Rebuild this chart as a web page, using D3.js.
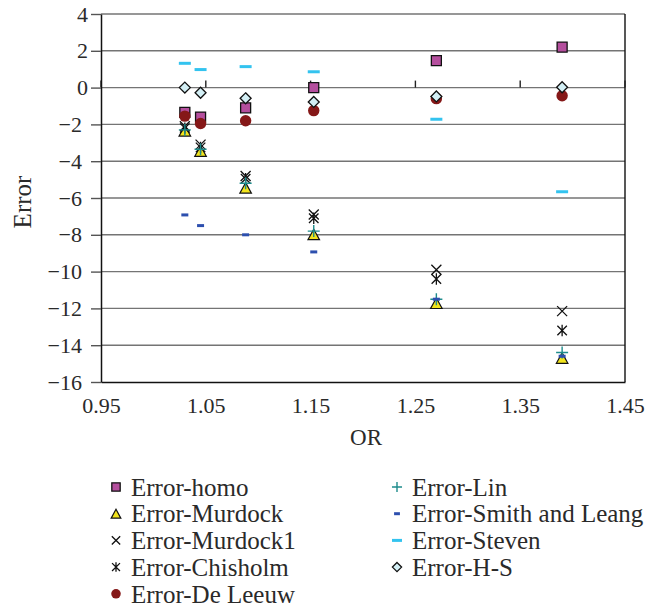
<!DOCTYPE html>
<html>
<head>
<meta charset="utf-8">
<script src="https://cdn.jsdelivr.net/npm/d3@7"></script>
<style>
body { margin: 0; background: #fff; }
svg text { font-family: "Liberation Serif", "Times New Roman", "DejaVu Serif", serif; fill: #2a2a2a; }
</style>
</head>
<body>
<svg id="chart" width="646" height="607"></svg>
<script>
// OR values (x) shared by every series
var orValues = [1.03, 1.045, 1.088, 1.153, 1.27, 1.39];

var errHomo       = [-1.35, -1.6, -1.1, 0.0, 1.47, 2.2];
var errMurdock    = [-2.35, -3.45, -5.45, -7.98, -11.72, -14.7];
var errMurdock1   = [-2.1, -3.1, -4.8, -6.9, -9.9, -12.15];
var errChisholm   = [-2.2, -3.25, -4.95, -7.1, -10.4, -13.2];
var errDeLeeuw    = [-1.55, -1.95, -1.8, -1.25, -0.6, -0.44];
var errLin        = [-2.3, -3.35, -5.2, -7.8, -11.5, -14.4];
var errSmithLeang = [-6.92, -7.5, -8.0, -8.93, -11.5, -14.6];
var errSteven     = [1.32, 0.98, 1.14, 0.86, -1.72, -5.66];
var errHS         = [0.0, -0.28, -0.58, -0.78, -0.48, 0.02];

var seriesNames = ['Error-homo', 'Error-Murdock', 'Error-Murdock1', 'Error-Chisholm',
  'Error-De Leeuw', 'Error-Lin', 'Error-Smith and Leang', 'Error-Steven', 'Error-H-S'];

var xTicks = [0.95, 1.05, 1.15, 1.25, 1.35, 1.45];
var yTicks = [-16, -14, -12, -10, -8, -6, -4, -2, 0, 2, 4];

var FONT = '"Liberation Serif", "Times New Roman", "DejaVu Serif", serif';

// marker shapes, drawn with d3.symbol custom types
var shapes = {
  square:   { draw: function(c, s) { var r = Math.sqrt(s) / 2; c.rect(-r, -r, 2 * r, 2 * r); } },
  triangle: { draw: function(c, s) { var r = Math.sqrt(s) / 2; c.moveTo(0, -r); c.lineTo(r * 1.1, r); c.lineTo(-r * 1.1, r); c.closePath(); } },
  times:    { draw: function(c, s) { var r = Math.sqrt(s) / 2; c.moveTo(-r, -r); c.lineTo(r, r); c.moveTo(-r, r); c.lineTo(r, -r); } },
  asterisk: { draw: function(c, s) { var r = Math.sqrt(s) / 2; c.moveTo(-r, -r); c.lineTo(r, r); c.moveTo(-r, r); c.lineTo(r, -r); c.moveTo(0, -r * 1.2); c.lineTo(0, r * 1.2); } },
  circle:   { draw: function(c, s) { var r = Math.sqrt(s) / 2; c.moveTo(r, 0); c.arc(0, 0, r, 0, 2 * Math.PI); } },
  plus:     { draw: function(c, s) { var r = Math.sqrt(s) / 2; c.moveTo(-r, 0); c.lineTo(r, 0); c.moveTo(0, -r); c.lineTo(0, r); } },
  dashS:    { draw: function(c, s) { var r = Math.sqrt(s) / 2; c.rect(-r, -1.5, 2 * r, 3); } },
  diamond:  { draw: function(c, s) { var r = Math.sqrt(s) / 2; c.moveTo(0, -r); c.lineTo(r, 0); c.lineTo(0, r); c.lineTo(-r, 0); c.closePath(); } }
};

var series = [
  { name: seriesNames[0], values: errHomo,       shape: shapes.square,   size: 100, fill: '#b54f9e', stroke: '#111', sw: 1.3 },
  { name: seriesNames[1], values: errMurdock,    shape: shapes.triangle, size: 110, fill: '#f2e41c', stroke: '#111', sw: 1.2 },
  { name: seriesNames[2], values: errMurdock1,   shape: shapes.times,    size: 100, fill: 'none',    stroke: '#111', sw: 1.3 },
  { name: seriesNames[3], values: errChisholm,   shape: shapes.asterisk, size: 90,  fill: 'none',    stroke: '#111', sw: 1.3 },
  { name: seriesNames[4], values: errDeLeeuw,    shape: shapes.circle,   size: 130, fill: '#851818', stroke: 'none', sw: 0 },
  { name: seriesNames[5], values: errLin,        shape: shapes.plus,     size: 144, fill: 'none',    stroke: '#1e8c8c', sw: 1.4 },
  { name: seriesNames[6], values: errSmithLeang, shape: shapes.dashS,    size: 49,  fill: '#2d4fae', stroke: 'none', sw: 0 },
  { name: seriesNames[7], values: errSteven,     shape: shapes.dashS,    size: 144, fill: '#33c3ef', stroke: 'none', sw: 0 },
  { name: seriesNames[8], values: errHS,         shape: shapes.diamond,  size: 120, fill: '#d3eff5', stroke: '#111', sw: 1.3 }
];

var svg = d3.select('#chart');
var plotLeft = 101, plotRight = 625, plotTop = 14, plotBottom = 382;

var x = d3.scaleLinear().domain([0.95, 1.45]).range([plotLeft, plotRight]);
var y = d3.scaleLinear().domain([-16, 4]).range([plotBottom, plotTop]);

// horizontal gridlines
svg.append('g').selectAll('line')
  .data(yTicks.filter(function(d) { return d > -16; }))
  .enter().append('line')
  .attr('x1', plotLeft).attr('x2', plotRight)
  .attr('y1', function(d) { return y(d); }).attr('y2', function(d) { return y(d); })
  .attr('stroke', '#747474').attr('stroke-width', 1.4);

// right border
svg.append('line')
  .attr('x1', plotRight).attr('x2', plotRight).attr('y1', plotTop).attr('y2', plotBottom)
  .attr('stroke', '#111').attr('stroke-width', 1.4);

// small tick marks on the y = 0 line
svg.append('g').selectAll('line')
  .data(xTicks)
  .enter().append('line')
  .attr('x1', function(d) { return x(d); }).attr('x2', function(d) { return x(d); })
  .attr('y1', y(0)).attr('y2', y(0) - 7)
  .attr('stroke', '#222').attr('stroke-width', 1.4);

// bottom axis (labels only, low position)
var xAxis = svg.append('g')
  .attr('transform', 'translate(0,' + plotBottom + ')')
  .call(d3.axisBottom(x).tickValues(xTicks).tickSize(0).tickPadding(15).tickFormat(d3.format('.2f')));
xAxis.attr('font-family', FONT).attr('font-size', 22);
xAxis.select('.domain').attr('stroke', '#111').attr('stroke-width', 1.5);
xAxis.selectAll('text').attr('fill', '#2a2a2a');

// left axis
var yAxis = svg.append('g')
  .attr('transform', 'translate(' + plotLeft + ',0)')
  .call(d3.axisLeft(y).tickValues(yTicks).tickSize(10).tickPadding(9).tickSizeOuter(0));
yAxis.attr('font-family', FONT).attr('font-size', 22);
yAxis.select('.domain').attr('stroke', '#111').attr('stroke-width', 1.5);
yAxis.selectAll('.tick line').attr('stroke', '#555').attr('stroke-width', 1.4);
yAxis.selectAll('text')
  .attr('fill', '#2a2a2a')
  .attr('dx', function(d) { return d >= 0 ? 6 : 0; });

// axis titles
svg.append('text')
  .attr('transform', 'translate(31,202) rotate(-90)')
  .attr('text-anchor', 'middle')
  .attr('font-size', 25)
  .text('Error');

svg.append('text')
  .attr('x', 366).attr('y', 445)
  .attr('text-anchor', 'middle')
  .attr('font-size', 23)
  .text('OR');

// points
var sym = d3.symbol();
var groups = svg.append('g').selectAll('g')
  .data(series)
  .enter().append('g');

groups.selectAll('path')
  .data(function(s) { return s.values.map(function(v, i) { return { s: s, x: orValues[i], y: v }; }); })
  .enter().append('path')
  .attr('transform', function(d) { return 'translate(' + x(d.x) + ',' + y(d.y) + ')'; })
  .attr('d', function(d) { return sym.type(d.s.shape).size(d.s.size)(); })
  .attr('fill', function(d) { return d.s.fill; })
  .attr('stroke', function(d) { return d.s.stroke; })
  .attr('stroke-width', function(d) { return d.s.sw; });

// legend, two columns
var legend = svg.append('g').selectAll('g')
  .data(series)
  .enter().append('g')
  .attr('transform', function(d, i) {
    var col = i < 5 ? 0 : 1;
    var row = i < 5 ? i : i - 5;
    return 'translate(' + (col ? 397 : 116) + ',' + (487 + row * 26.7) + ')';
  });

legend.append('path')
  .attr('d', function(d) { return sym.type(d.shape).size(d.size * 0.7)(); })
  .attr('fill', function(d) { return d.fill; })
  .attr('stroke', function(d) { return d.stroke; })
  .attr('stroke-width', function(d) { return d.sw; });

legend.append('text')
  .attr('x', 15).attr('dy', '0.35em')
  .attr('font-size', 25)
  .text(function(d) { return d.name; });
</script>
</body>
</html>
